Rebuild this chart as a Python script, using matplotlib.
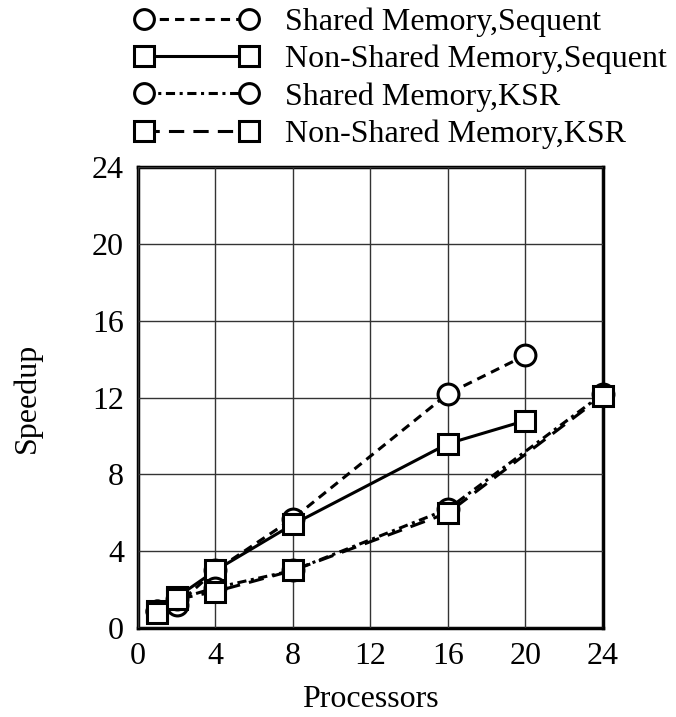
import matplotlib.pyplot as plt

plt.rcParams['font.family'] = ['Liberation Serif', 'DejaVu Serif']

# Processor counts and speedup values
procs_seq = [1, 2, 4, 8, 16, 20]
procs_ksr = [1, 2, 4, 8, 16, 24]

shared_seq = [0.9, 1.2, 3.0, 5.7, 12.2, 14.2]
nonshared_seq = [0.9, 1.6, 3.0, 5.4, 9.6, 10.8]
shared_ksr = [0.9, 1.5, 2.1, 3.0, 6.2, 12.2]
nonshared_ksr = [0.8, 1.5, 1.9, 3.0, 6.0, 12.1]

ticks = [0, 4, 8, 12, 16, 20, 24]

fig = plt.figure(figsize=(6.76, 7.17), dpi=100)
ax = fig.add_axes([0.204, 0.124, 0.688, 0.643])

mk = dict(color='black', lw=2.2, ms=15, mfc='white', mec='black', mew=2.2,
          clip_on=False)

ax.plot(procs_seq, shared_seq, linestyle=(0, (3, 2)), marker='o',
        label="Shared Memory,Sequent", **mk)
ax.plot(procs_seq, nonshared_seq, linestyle='-', marker='s',
        label="Non-Shared Memory,Sequent", **mk)
ax.plot(procs_ksr, shared_ksr, linestyle=(0, (3, 1.5, 1, 1.5)), marker='o',
        label="Shared Memory,KSR", **mk)
ax.plot(procs_ksr, nonshared_ksr, linestyle=(0, (5, 3)), marker='s',
        label="Non-Shared Memory,KSR", **mk)

ax.set_xlim(0, 24)
ax.set_ylim(0, 24)
ax.set_xticks(ticks)
ax.set_yticks(ticks)
ax.tick_params(length=0, labelsize=23, pad=10)
ax.grid(True, color='#333333', lw=1)
for s in ax.spines.values():
    s.set_linewidth(2.5)
    s.set_zorder(1.5)

ax.set_xlabel("Processors", fontsize=23, labelpad=10)
ax.set_ylabel("Speedup", fontsize=23, labelpad=36)

leg = ax.legend(loc='lower left', bbox_to_anchor=(-0.035, 1.012), frameon=False,
                numpoints=2, handlelength=3.9, fontsize=23, labelspacing=0.24,
                handletextpad=0.8, borderaxespad=0.0, markerscale=0.95)

plt.savefig("out.png", dpi=100)
